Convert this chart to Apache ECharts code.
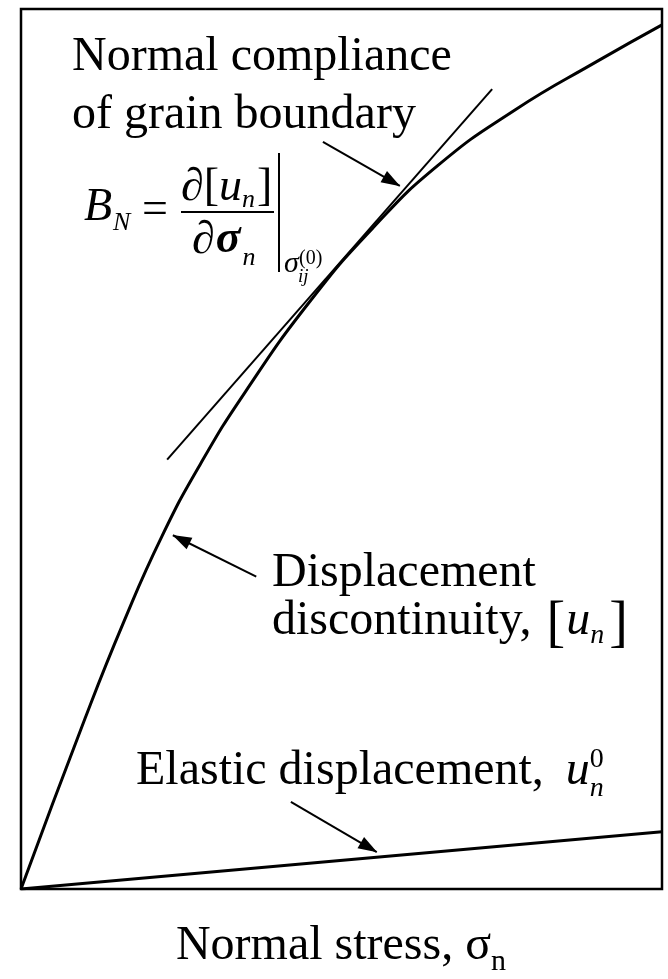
<!DOCTYPE html>
<html>
<head>
<meta charset="utf-8">
<script src="https://cdn.jsdelivr.net/npm/echarts@6/dist/echarts.min.js"></script>
<style>
  html, body { margin: 0; padding: 0; background: #fff; }
  #chart { width: 668px; height: 979px; }
</style>
</head>
<body>
<div id="chart"></div>
<script>
// Normal stress (x) and displacement discontinuity (y), relative units 0–100
const stress       = [0, 10, 16, 22, 28, 35, 45, 55, 65, 77, 90, 100];
const displacement = [0, 19.4, 30.3, 40.1, 48.3, 56.5, 66.7, 75.2, 82.2, 88.5, 94.1, 98.2];

// Tangent to the curve at the reference stress state (slope = compliance B_N)
const tangentStress = [22.8, 73.5];
const tangentDisp   = [48.8, 90.9];

// Elastic displacement, linear in stress
const elasticStress = [0, 100];
const elasticDisp   = [0, 6.5];

// Annotation arrows: [tailX, tailY, tipX, tipY] in data units
const arrowCompliance = [47.1, 84.9, 59.1, 79.9];
const arrowDiscont    = [36.7, 35.5, 23.7, 40.2];
const arrowElastic    = [42.1, 9.9, 55.5, 4.2];

const SERIF = '"Liberation Serif", "Times New Roman", serif';
const ctx = document.createElement('canvas').getContext('2d');

function fontStr(p) {
  return (p.italic ? 'italic ' : '') + (p.bold ? 'bold ' : '') + p.size + 'px ' + SERIF;
}
function measure(p) {
  ctx.font = fontStr(p);
  return ctx.measureText(p.t).width;
}
// Lays out a run of text pieces on a common baseline; pieces may be raised/lowered (dy)
function textRun(x, baseline, parts) {
  const els = [];
  let cx = x;
  parts.forEach(p => {
    if (p.dx) cx += p.dx;
    const f = fontStr(p);
    els.push({
      type: 'text',
      x: cx,
      y: baseline + (p.dy || 0) - 0.3375 * p.size,
      z: 10,
      silent: true,
      style: { text: p.t, font: f, fill: '#000', align: 'left', verticalAlign: 'middle' }
    });
    if (!p.stack) cx += measure(p);
  });
  return els;
}
function runWidth(parts) {
  let w = 0;
  parts.forEach(p => { if (p.dx) w += p.dx; if (!p.stack) w += measure(p); });
  return w;
}

const FS = 48;
const elements = [];

// "Normal compliance of grain boundary"
elements.push(...textRun(72, 74, [{ t: 'Normal compliance', size: FS }]));
elements.push(...textRun(72, 132, [{ t: 'of grain boundary', size: FS }]));

// B_N = ∂[u_n] / ∂σ_n |σ_ij^(0)
elements.push(...textRun(84, 223, [
  { t: 'B', size: 46, italic: true },
  { t: 'N', size: 26, italic: true, dy: 9, dx: 1 }
]));
elements.push(...textRun(142, 226, [{ t: '=', size: 46 }]));
elements.push(...textRun(181, 203, [
  { t: '\u2202[', size: 46 },
  { t: 'u', size: 46, italic: true },
  { t: 'n', size: 26, italic: true, dy: 6 },
  { t: ']', size: 46, dx: 2 }
]));
elements.push({ type: 'rect', z: 10, silent: true, shape: { x: 181, y: 211, width: 93, height: 2 }, style: { fill: '#000' } });
elements.push(...textRun(192, 256, [
  { t: '\u2202', size: 46 },
  { t: '\u03c3', size: 46, italic: true, bold: true, dx: 1 },
  { t: 'n', size: 26, italic: true, dy: 11, dx: 2 }
]));
elements.push({ type: 'rect', z: 10, silent: true, shape: { x: 278, y: 153, width: 2, height: 119 }, style: { fill: '#000' } });
elements.push(...textRun(284, 274, [{ t: '\u03c3', size: 30, italic: true }]));
elements.push(...textRun(298, 283, [{ t: 'ij', size: 19, italic: true }]));
elements.push(...textRun(299, 265, [{ t: '(0)', size: 20 }]));

// "Displacement discontinuity, [u_n]"
elements.push(...textRun(272, 590, [{ t: 'Displacement', size: FS }]));
elements.push(...textRun(272, 638, [
  { t: 'discontinuity, ', size: FS },
  { t: '[', size: 56, dy: 6, dx: 3 },
  { t: 'u', size: FS, italic: true, dx: 1 },
  { t: 'n', size: 28, italic: true, dy: 7 },
  { t: ']', size: 56, dy: 6, dx: 5 }
]));

// "Elastic displacement, u_n^0"
elements.push(...textRun(136, 788, [
  { t: 'Elastic displacement, ', size: FS },
  { t: 'u', size: FS, italic: true, dx: 10 },
  { t: 'n', size: 28, italic: true, dy: 10, stack: true },
  { t: '0', size: 28, dy: -19 }
]));

// Axis title "Normal stress, σ_n"
const titleParts = [
  { t: 'Normal stress, \u03c3', size: FS },
  { t: 'n', size: 30, dy: 9 }
];
elements.push(...textRun(341 - runWidth(titleParts) / 2, 963, titleParts));

function arrowLine(a) {
  return [
    { coord: [a[0], a[1]], symbol: 'none' },
    { coord: [a[2], a[3]], symbol: 'triangle', symbolSize: [13, 19], symbolOffset: [0, 9] }
  ];
}

const chart = echarts.init(document.getElementById('chart'), null, { renderer: 'canvas' });
chart.setOption({
  animation: false,
  backgroundColor: '#fff',
  grid: {
    left: 21, right: 6, top: 9, bottom: 90,
    show: true, borderColor: '#000', borderWidth: 2.5, backgroundColor: 'transparent'
  },
  xAxis: {
    type: 'value', min: 0, max: 100,
    axisLine: { show: false }, axisTick: { show: false },
    axisLabel: { show: false }, splitLine: { show: false }
  },
  yAxis: {
    type: 'value', min: 0, max: 100,
    axisLine: { show: false }, axisTick: { show: false },
    axisLabel: { show: false }, splitLine: { show: false }
  },
  series: [
    {
      name: 'Displacement discontinuity',
      type: 'line',
      smooth: 0.5,
      symbol: 'none',
      silent: true,
      lineStyle: { color: '#000', width: 3 },
      data: stress.map((s, i) => [s, displacement[i]])
    },
    {
      name: 'Normal compliance',
      type: 'line',
      symbol: 'none',
      silent: true,
      lineStyle: { color: '#000', width: 2 },
      data: tangentStress.map((s, i) => [s, tangentDisp[i]])
    },
    {
      name: 'Elastic displacement',
      type: 'line',
      symbol: 'none',
      silent: true,
      lineStyle: { color: '#000', width: 3 },
      data: elasticStress.map((s, i) => [s, elasticDisp[i]]),
      markLine: {
        silent: true,
        animation: false,
        label: { show: false },
        emphasis: { disabled: true },
        lineStyle: { color: '#000', width: 2, type: 'solid' },
        itemStyle: { color: '#000' },
        data: [arrowLine(arrowCompliance), arrowLine(arrowDiscont), arrowLine(arrowElastic)]
      }
    }
  ],
  graphic: { elements: elements }
});
</script>
</body>
</html>
